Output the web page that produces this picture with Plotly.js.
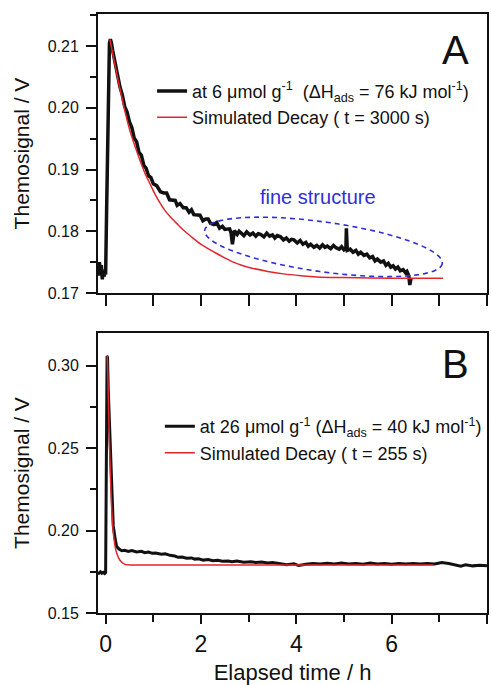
<!DOCTYPE html>
<html>
<head>
<meta charset="utf-8">
<script src="https://cdn.plot.ly/plotly-3.0.1.min.js"></script>
<style>html,body{margin:0;padding:0;background:#fff;}#chart{width:491px;height:685px;}</style>
</head>
<body>
<div id="chart"></div>
<script>
// ---------- Panel A data ----------
const aMeasX = [-0.16,-0.15,-0.13,-0.11,-0.09,-0.07,-0.05,-0.03,-0.01,0.00,0.02,0.04,0.06,0.08,0.10,0.12,
  0.15,0.20,0.25,0.30,0.35,0.40,0.45,0.50,0.55,0.60,0.65,0.70,0.75,0.80,0.85,0.90,0.95,1.00,1.07,1.15,1.22,1.28,
  1.34,1.40,1.46,1.50,1.56,1.63,1.69,1.75,1.80,1.85,1.92,1.98,2.04,2.10,2.15,2.20,2.27,2.33,2.39,2.45,2.50,2.55,2.60,2.63,2.66,2.70,
  2.76,2.80,2.86,2.90,2.96,3.03,3.09,3.15,3.20,3.25,3.32,3.38,3.44,3.50,3.55,3.60,3.67,3.73,3.79,3.85,3.90,3.95,4.02,4.08,
  4.14,4.20,4.25,4.30,4.37,4.43,4.49,4.55,4.60,4.65,4.72,4.78,4.84,4.90,4.95,5.00,5.04,5.05,5.07,5.13,5.19,5.25,5.30,5.35,
  5.42,5.48,5.54,5.60,5.65,5.70,5.77,5.83,5.88,5.93,5.98,6.03,6.08,6.13,6.18,6.24,6.29,6.32,6.36,6.38,6.41];
const aMeasY = [0.1742,0.1728,0.1750,0.1732,0.1745,0.1722,0.1738,0.1727,0.1735,0.1730,0.1830,0.1960,0.2060,0.2105,0.2111,0.2106,
  0.2092,0.2072,0.2056,0.2034,0.2021,0.2002,0.1993,0.1977,0.1968,0.1951,0.1945,0.1928,0.1923,0.1907,0.1902,0.1890,0.1887,0.1877,0.1874,0.1864,0.1862,0.1862,
  0.1851,0.1850,0.1850,0.1842,0.1845,0.1838,0.1838,0.1831,0.1835,0.1827,0.1826,0.1826,0.1817,0.1820,0.1820,0.1813,0.1811,0.1814,0.1805,0.1808,0.1803,0.1804,0.1804,0.1798,0.1779,0.1801,
  0.1795,0.1800,0.1796,0.1793,0.1799,0.1794,0.1797,0.1792,0.1796,0.1795,0.1791,0.1797,0.1792,0.1794,0.1789,0.1793,0.1791,0.1786,0.1789,0.1784,0.1787,0.1786,0.1781,0.1785,
  0.1779,0.1782,0.1776,0.1779,0.1774,0.1777,0.1773,0.1778,0.1774,0.1776,0.1772,0.1777,0.1773,0.1771,0.1775,0.1770,0.1772,0.1805,0.1769,0.1771,0.1766,0.1769,0.1763,0.1766,
  0.1761,0.1763,0.1757,0.1759,0.1752,0.1755,0.1750,0.1752,0.1745,0.1748,0.1742,0.1744,0.1739,0.1742,0.1736,0.1738,0.1733,0.1735,0.1728,0.1713,0.1725];
const aSimX = [0.09,0.20,0.30,0.40,0.51,0.62,0.72,0.82,0.93,1.03,1.14,1.25,1.35,1.50,1.63,1.80,1.98,2.15,2.33,2.50,2.68,2.85,3.03,3.40,3.73,4.10,4.43,5.00,6.00,7.08];
const aSimY = [0.2111,0.2068,0.2031,0.1996,0.1963,0.1937,0.1915,0.1895,0.1877,0.1861,0.1846,0.1833,0.1824,0.1812,0.1802,0.1791,0.1780,0.1772,0.1764,0.1757,0.1750,0.1745,0.1741,0.1735,0.1731,0.1728,0.1726,0.1725,0.1724,0.1724];

// ---------- Panel B data ----------
const bMeasX = [-0.16,-0.14,-0.11,-0.08,-0.05,-0.02,0.00,0.015,0.03,0.04,0.055,0.075,0.09,0.11,0.126,0.145,0.16,0.20,0.23,0.28,0.34,0.40,0.475,
  0.55,0.65,0.75,0.82,0.90,0.98,1.05,1.17,1.25,1.35,1.45,1.52,1.60,1.70,1.80,1.87,1.95,2.05,2.15,2.25,2.35,2.45,2.57,2.65,2.75,2.90,3.05,3.15,3.27,3.40,3.50,3.65,
  3.80,3.95,4.05,4.20,4.35,4.50,4.65,4.80,4.95,5.10,5.25,5.40,5.55,5.70,5.85,6.00,6.15,6.30,6.45,6.60,6.75,6.90,7.05,7.20,7.35,7.45,7.55,7.70,7.85,8.00];
const bMeasY = [0.1748,0.1742,0.1750,0.1741,0.1747,0.1740,0.1745,0.2400,0.3060,0.3050,0.2855,0.2680,0.2550,0.2380,0.2246,0.2110,0.2030,0.1950,0.1905,0.1888,0.1878,0.1880,0.1874,
  0.1879,0.1871,0.1874,0.1866,0.1870,0.1862,0.1864,0.1857,0.1859,0.1850,0.1846,0.1838,0.1840,0.1832,0.1834,0.1827,0.1829,0.1821,0.1824,0.1817,0.1820,0.1814,0.1816,0.1811,0.1815,0.1808,0.1811,0.1806,0.1810,0.1803,0.1806,0.1801,
  0.1793,0.1799,0.1788,0.1796,0.1800,0.1797,0.1802,0.1798,0.1803,0.1797,0.1801,0.1796,0.1803,0.1798,0.1801,0.1796,0.1800,0.1797,0.1801,0.1797,0.1800,0.1798,0.1806,0.1800,0.1790,0.1784,0.1792,0.1786,0.1790,0.1786];
const bSimX = [0.034,0.05,0.07,0.09,0.11,0.13,0.16,0.19,0.23,0.30,0.40,0.50,1.00,3.00,5.00,6.88];
const bSimY = [0.3065,0.2900,0.2640,0.2430,0.2260,0.2120,0.1990,0.1920,0.1866,0.1820,0.1795,0.1792,0.1791,0.1791,0.1791,0.1791];

// ---------- Text ----------
const nameAMeas = 'at 6 \u03bcmol g<sup>-1</sup>\u00a0\u00a0(\u0394H<sub>ads</sub> = 76 kJ mol<sup>-1</sup>)';
const nameASim = 'Simulated Decay ( t = 3000 s)';
const nameBMeas = 'at 26 \u03bcmol g<sup>-1</sup> (\u0394H<sub>ads</sub> = 40 kJ mol<sup>-1</sup>)';
const nameBSim = 'Simulated Decay ( t = 255 s)';
const xTickVals = [0, 2, 4, 6, 8];
const xTickText = ['0', '2', '4', '6', '8'];

// ---------- Ellipse annotation (fine structure) ----------
const ellCenter = [4.57, 0.17747];   // data coords
const ellAxesPx = [120, 25];         // semi-axes in px
const ellAngleDeg = 8;
const pxPerH = 47.67, pxPerV = 6200;
let ellPath = '';
for (let i = 0; i <= 72; i++) {
  const phi = 2 * Math.PI * i / 72, th = ellAngleDeg * Math.PI / 180;
  const sx = ellAxesPx[0] * Math.cos(phi) * Math.cos(th) - ellAxesPx[1] * Math.sin(phi) * Math.sin(th);
  const sy = ellAxesPx[0] * Math.cos(phi) * Math.sin(th) + ellAxesPx[1] * Math.sin(phi) * Math.cos(th);
  const x = ellCenter[0] + sx / pxPerH, y = ellCenter[1] - sy / pxPerV;
  ellPath += (i === 0 ? 'M' : 'L') + x.toFixed(4) + ',' + y.toFixed(6);
}
ellPath += 'Z';

const FONT = 'Liberation Sans, Arial, sans-serif';
const BLACK = '#111111', RED = '#e3262c', BLUE = '#2f2fd6';

const traces = [
  {x: aMeasX, y: aMeasY, xaxis: 'x', yaxis: 'y', mode: 'lines', name: nameAMeas, line: {color: BLACK, width: 3.5}, legend: 'legend'},
  {x: aSimX, y: aSimY, xaxis: 'x', yaxis: 'y', mode: 'lines', name: nameASim, line: {color: RED, width: 1.5, shape: 'spline', smoothing: 0.8}, legend: 'legend'},
  {x: bMeasX, y: bMeasY, xaxis: 'x2', yaxis: 'y2', mode: 'lines', name: nameBMeas, line: {color: BLACK, width: 3}, legend: 'legend2'},
  {x: bSimX, y: bSimY, xaxis: 'x2', yaxis: 'y2', mode: 'lines', name: nameBSim, line: {color: RED, width: 1.5, shape: 'spline', smoothing: 0.8}, legend: 'legend2'}
];

const axisCommon = {
  showline: true, linecolor: '#111', linewidth: 2, mirror: true,
  ticks: 'outside', tickcolor: '#111', tickwidth: 2, showgrid: false, zeroline: false,
  tickfont: {family: FONT, size: 16, color: '#111'}
};

const layout = {
  width: 491, height: 685,
  margin: {l: 98, r: 4, t: 14, b: 72},
  paper_bgcolor: '#fff', plot_bgcolor: '#fff',
  font: {family: FONT, color: '#111'},
  xaxis: Object.assign({}, axisCommon, {
    domain: [0, 1], anchor: 'y', range: [-0.16, 8.0], tickvals: xTickVals, showticklabels: false, ticklen: 11,
    minor: {dtick: 1, tick0: 0, ticks: 'outside', ticklen: 11, tickwidth: 2, tickcolor: '#111'}
  }),
  yaxis: Object.assign({}, axisCommon, {
    domain: [0.5342, 1], anchor: 'x', range: [0.17, 0.2152], dtick: 0.01, tick0: 0.17, tickformat: '.2f', ticklen: 10,
    ticklabelstandoff: 4,
    minor: {dtick: 0.005, ticks: 'outside', ticklen: 6, tickwidth: 2, tickcolor: '#111'},
    title: {text: 'Themosignal / V', font: {family: FONT, size: 21, color: '#111'}, standoff: 12}
  }),
  xaxis2: Object.assign({}, axisCommon, {
    domain: [0, 1], anchor: 'y2', range: [-0.16, 8.0], tickvals: xTickVals, ticktext: xTickText, ticklen: 9,
    tickfont: {family: FONT, size: 23, color: '#111'},
    minor: {dtick: 1, tick0: 0, ticks: 'outside', ticklen: 7, tickwidth: 2, tickcolor: '#111'},
    title: {text: 'Elapsed time / h', font: {family: FONT, size: 22, color: '#111'}, standoff: 12}
  }),
  yaxis2: Object.assign({}, axisCommon, {
    domain: [0, 0.4674], anchor: 'x2', range: [0.15, 0.3199], dtick: 0.05, tick0: 0.15, tickformat: '.2f', ticklen: 10,
    ticklabelstandoff: 4,
    minor: {dtick: 0.025, ticks: 'outside', ticklen: 6, tickwidth: 2, tickcolor: '#111'},
    title: {text: 'Themosignal / V', font: {family: FONT, size: 21, color: '#111'}, standoff: 12}
  }),
  legend: {x: 0.139, y: 0.902, xanchor: 'left', yanchor: 'top', bgcolor: 'rgba(0,0,0,0)',
    font: {family: FONT, size: 18, color: '#111'}, tracegroupgap: 0, borderwidth: 0},
  legend2: {x: 0.159, y: 0.342, xanchor: 'left', yanchor: 'top', bgcolor: 'rgba(0,0,0,0)',
    font: {family: FONT, size: 18, color: '#111'}, tracegroupgap: 0, borderwidth: 0},
  shapes: [
    {type: 'path', xref: 'x', yref: 'y', path: ellPath, line: {color: BLUE, width: 1.6, dash: '5px,4px'}}
  ],
  annotations: [
    {text: 'A', xref: 'paper', yref: 'paper', x: 0.920, y: 0.940, xanchor: 'center', yanchor: 'middle', showarrow: false, font: {family: FONT, size: 40, color: '#111'}},
    {text: 'B', xref: 'paper', yref: 'paper', x: 0.920, y: 0.416, xanchor: 'center', yanchor: 'middle', showarrow: false, font: {family: FONT, size: 40, color: '#111'}},
    {text: 'fine structure', xref: 'x', yref: 'y', x: 4.46, y: 0.1855, showarrow: false, font: {family: FONT, size: 20, color: BLUE}}
  ]
};

Plotly.newPlot('chart', traces, layout, {displayModeBar: false, staticPlot: true});
</script>
</body>
</html>
